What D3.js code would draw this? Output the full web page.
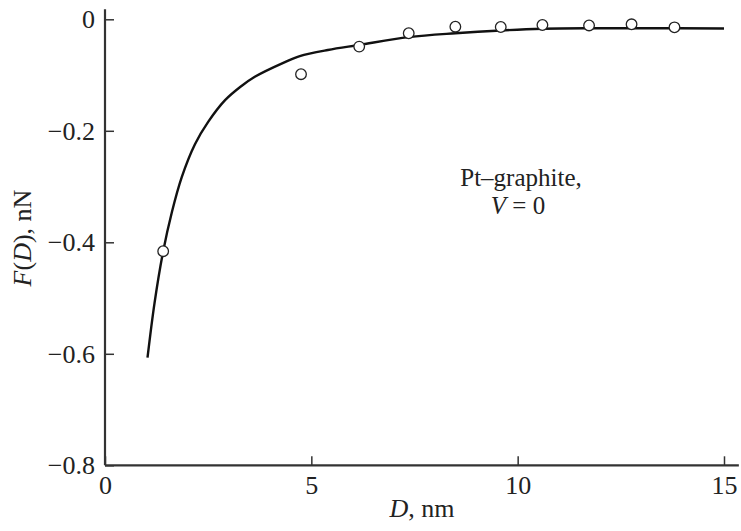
<!DOCTYPE html>
<html>
<head>
<meta charset="utf-8">
<script src="https://cdn.jsdelivr.net/npm/d3@7"></script>
<style>
  body { margin: 0; background: #fff; }
</style>
</head>
<body>
<div id="chart"></div>
<script>
// measured points (D in nm, F in nN)
const pointD = [1.41, 4.75, 6.16, 7.36, 8.49, 9.59, 10.6, 11.73, 12.76, 13.8];
const pointF = [-0.416, -0.0985, -0.049, -0.025, -0.0133, -0.0138, -0.0102, -0.011, -0.009, -0.0144];

// fitted curve
const curveD = [1.03, 1.2, 1.41, 1.62, 1.86, 2.18, 2.5, 2.91, 3.3, 3.63, 4.32, 4.72, 5.4, 6.16, 7.36, 8.49, 9.59, 10.6, 11.7, 13, 15];
const curveF = [-0.607, -0.509, -0.416, -0.346, -0.283, -0.224, -0.184, -0.145, -0.12, -0.103, -0.078, -0.066, -0.055, -0.046, -0.032, -0.025, -0.02, -0.017, -0.016, -0.016, -0.0165];

const xTicks = [0, 5, 10, 15];
const yTicks = [0, -0.2, -0.4, -0.6, -0.8];

const W = 741, H = 531;
const axisColor = '#333';
const serif = "'Liberation Serif', 'Times New Roman', Times, serif";

const svg = d3.select('#chart')
  .append('svg')
  .attr('width', W)
  .attr('height', H)
  .attr('font-family', serif);

const x = d3.scaleLinear().domain([0, 15]).range([105, 724]);
const y = d3.scaleLinear().domain([-0.8, 0]).range([465.3, 19.3]);

function fmtY(d) {
  return d === 0 ? '0' : '\u2212' + Math.abs(d).toFixed(1);
}

// x axis
const xAxis = d3.axisBottom(x)
  .tickValues(xTicks)
  .tickSizeInner(-9)
  .tickSizeOuter(0)
  .tickPadding(8)
  .tickFormat(d3.format('d'));

const gx = svg.append('g')
  .attr('transform', 'translate(0,' + y(-0.8) + ')')
  .call(xAxis)
  .attr('font-family', serif);
gx.select('.domain').remove();
gx.selectAll('.tick line').attr('stroke', axisColor).attr('stroke-width', 1.5);
gx.selectAll('.tick text')
  .attr('font-size', 26)
  .attr('fill', '#222')
  .attr('dy', '0.78em');

// y axis
const yAxis = d3.axisLeft(y)
  .tickValues(yTicks)
  .tickSizeInner(-9)
  .tickSizeOuter(0)
  .tickPadding(10)
  .tickFormat(fmtY);

const gy = svg.append('g')
  .attr('transform', 'translate(' + x(0) + ',0)')
  .call(yAxis)
  .attr('font-family', serif);
gy.select('.domain').remove();
gy.selectAll('.tick line').attr('stroke', axisColor).attr('stroke-width', 1.5);
gy.selectAll('.tick text')
  .attr('font-size', 26)
  .attr('fill', '#222');

// axis lines, a bit longer than the data range
svg.append('line')
  .attr('x1', x(0)).attr('x2', x(15.36))
  .attr('y1', y(-0.8)).attr('y2', y(-0.8))
  .attr('stroke', axisColor).attr('stroke-width', 2.2);
svg.append('line')
  .attr('x1', x(0)).attr('x2', x(0))
  .attr('y1', y(-0.8)).attr('y2', y(0.018))
  .attr('stroke', axisColor).attr('stroke-width', 2.2);

// curve
const curveData = curveD.map((d, i) => ({ d: d, f: curveF[i] }));
svg.append('path')
  .datum(curveData)
  .attr('fill', 'none')
  .attr('stroke', '#111')
  .attr('stroke-width', 2.4)
  .attr('d', d3.line()
    .x(p => x(p.d))
    .y(p => y(p.f))
    .curve(d3.curveCatmullRom.alpha(0.5)));

// points
const pts = pointD.map((d, i) => ({ d: d, f: pointF[i] }));
svg.append('g')
  .selectAll('circle')
  .data(pts)
  .join('circle')
  .attr('cx', p => x(p.d))
  .attr('cy', p => y(p.f))
  .attr('r', 5.3)
  .attr('fill', '#fff')
  .attr('stroke', '#222')
  .attr('stroke-width', 1.3);

// axis titles
const xt = svg.append('text')
  .attr('x', 422)
  .attr('y', 517)
  .attr('text-anchor', 'middle')
  .attr('font-size', 26)
  .attr('fill', '#222');
xt.append('tspan').attr('font-style', 'italic').text('D');
xt.append('tspan').text(', nm');

const yt = svg.append('text')
  .attr('transform', 'translate(31,238) rotate(-90)')
  .attr('text-anchor', 'middle')
  .attr('font-size', 26)
  .attr('fill', '#222');
yt.append('tspan').attr('font-style', 'italic').text('F');
yt.append('tspan').text('(');
yt.append('tspan').attr('font-style', 'italic').text('D');
yt.append('tspan').text('), nN');

// annotation
svg.append('text')
  .attr('x', 521)
  .attr('y', 186)
  .attr('text-anchor', 'middle')
  .attr('font-size', 25)
  .attr('fill', '#222')
  .text('Pt\u2013graphite,');

const vt = svg.append('text')
  .attr('x', 518)
  .attr('y', 214)
  .attr('text-anchor', 'middle')
  .attr('font-size', 25)
  .attr('fill', '#222');
vt.append('tspan').attr('font-style', 'italic').text('V');
vt.append('tspan').text(' = 0');
</script>
</body>
</html>
